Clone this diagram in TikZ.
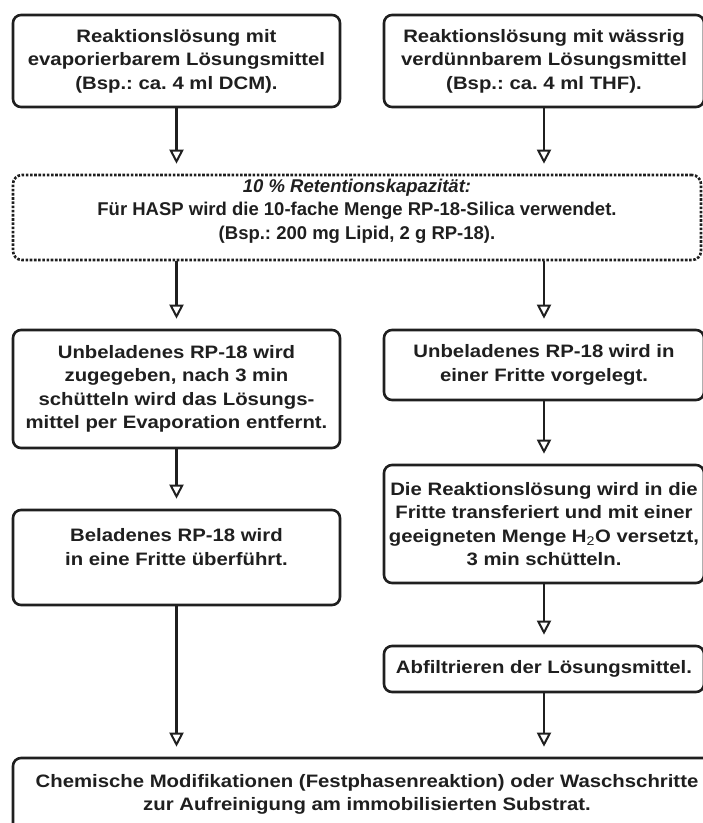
\documentclass[tikz,border=0pt]{standalone}
\usepackage{fontspec}
\setmainfont{Liberation Sans}[FakeStretch=1.13]
\newfontfamily\narrowfont{Liberation Sans}
\usetikzlibrary{arrows.meta}
\begin{document}
\frenchspacing
\begin{tikzpicture}[x=1pt,y=-1pt,
  font=\fontsize{18}{23.5}\selectfont\bfseries,
  text=black!88,
  stepbox/.style={draw=black!88, line width=2.6pt, rounded corners=8pt,
    fill=white, align=center, inner sep=0pt},
  plaintext/.style={align=center, inner sep=0pt},
  dotbox/.style={draw=black!88, line width=2.6pt, rounded corners=9pt,
    dash pattern=on 2.6pt off 1.6pt},
  flow/.style={draw=black!88, line width=2.4pt,
    -{Triangle[fill=white, length=14pt, width=14pt, line width=2pt]},
    shorten >=10pt}]
\useasboundingbox (0,0) rectangle (703,823);
\clip (0,0) rectangle (703,823);

% first row: two starting solutions
\node[stepbox, minimum width=327pt, minimum height=92pt] (lstart) at (176.5,61)
  {Reaktionslösung mit\\evaporierbarem Lösungsmittel\\(Bsp.: ca. 4 ml DCM).};
\node[stepbox, minimum width=320pt, minimum height=92pt] (rstart) at (544,61)
  {Reaktionslösung mit wässrig\\verdünnbarem Lösungsmittel\\(Bsp.: ca. 4 ml THF).};

% retention capacity note
\node[dotbox, minimum width=688pt, minimum height=85pt] (note) at (357,217.5) {};
\node[plaintext, font=\fontsize{18.5}{23.5}\selectfont\narrowfont\bfseries]
  (notetext) at (357,211)
  {{\itshape 10 \% Retentionskapazität:}\\
   Für HASP wird die 10-fache Menge RP-18-Silica verwendet.\\
   (Bsp.: 200 mg Lipid, 2 g RP-18).};

% left column
\node[stepbox, minimum width=327pt, minimum height=118pt] (levap) at (176.5,389)
  {Unbeladenes RP-18 wird\\zugegeben, nach 3 min\\schütteln wird das Lösungs-\\mittel per Evaporation entfernt.};
\node[stepbox, minimum width=327pt, minimum height=95pt] (lload) at (176.5,557.5) {};
\node[plaintext] (lloadtext) at (176.5,547)
  {Beladenes RP-18 wird\\in eine Fritte überführt.};

% right column
\node[stepbox, minimum width=320pt, minimum height=70pt] (rfrit) at (544,365)
  {Unbeladenes RP-18 wird in\\einer Fritte vorgelegt.};
\node[stepbox, minimum width=320pt, minimum height=118pt] (rtrans) at (544,524)
  {Die Reaktionslösung wird in die\\Fritte transferiert und mit einer\\geeigneten Menge H\textsubscript{\mdseries 2}O versetzt,\\3 min schütteln.};
\node[stepbox, minimum width=320pt, minimum height=46pt] (rfilt) at (544,669)
  {Abfiltrieren der Lösungsmittel.};

% final step
\node[stepbox, minimum width=708pt, minimum height=73pt] (final) at (367,794.5)
  {Chemische Modifikationen (Festphasenreaktion) oder Waschschritte\\zur Aufreinigung am immobilisierten Substrat.};

% connectors
\draw[flow] (lstart.south) -- (lstart.south |- note.north);
\draw[flow] (rstart.south) -- (rstart.south |- note.north);
\draw[flow] (note.south -| lstart.south) -- (levap.north);
\draw[flow] (note.south -| rstart.south) -- (rfrit.north);
\draw[flow] (levap.south) -- (lload.north);
\draw[flow] (lload.south) -- (lload.south |- final.north);
\draw[flow] (rfrit.south) -- (rtrans.north);
\draw[flow] (rtrans.south) -- (rfilt.north);
\draw[flow] (rfilt.south) -- (rfilt.south |- final.north);
\end{tikzpicture}
\end{document}
